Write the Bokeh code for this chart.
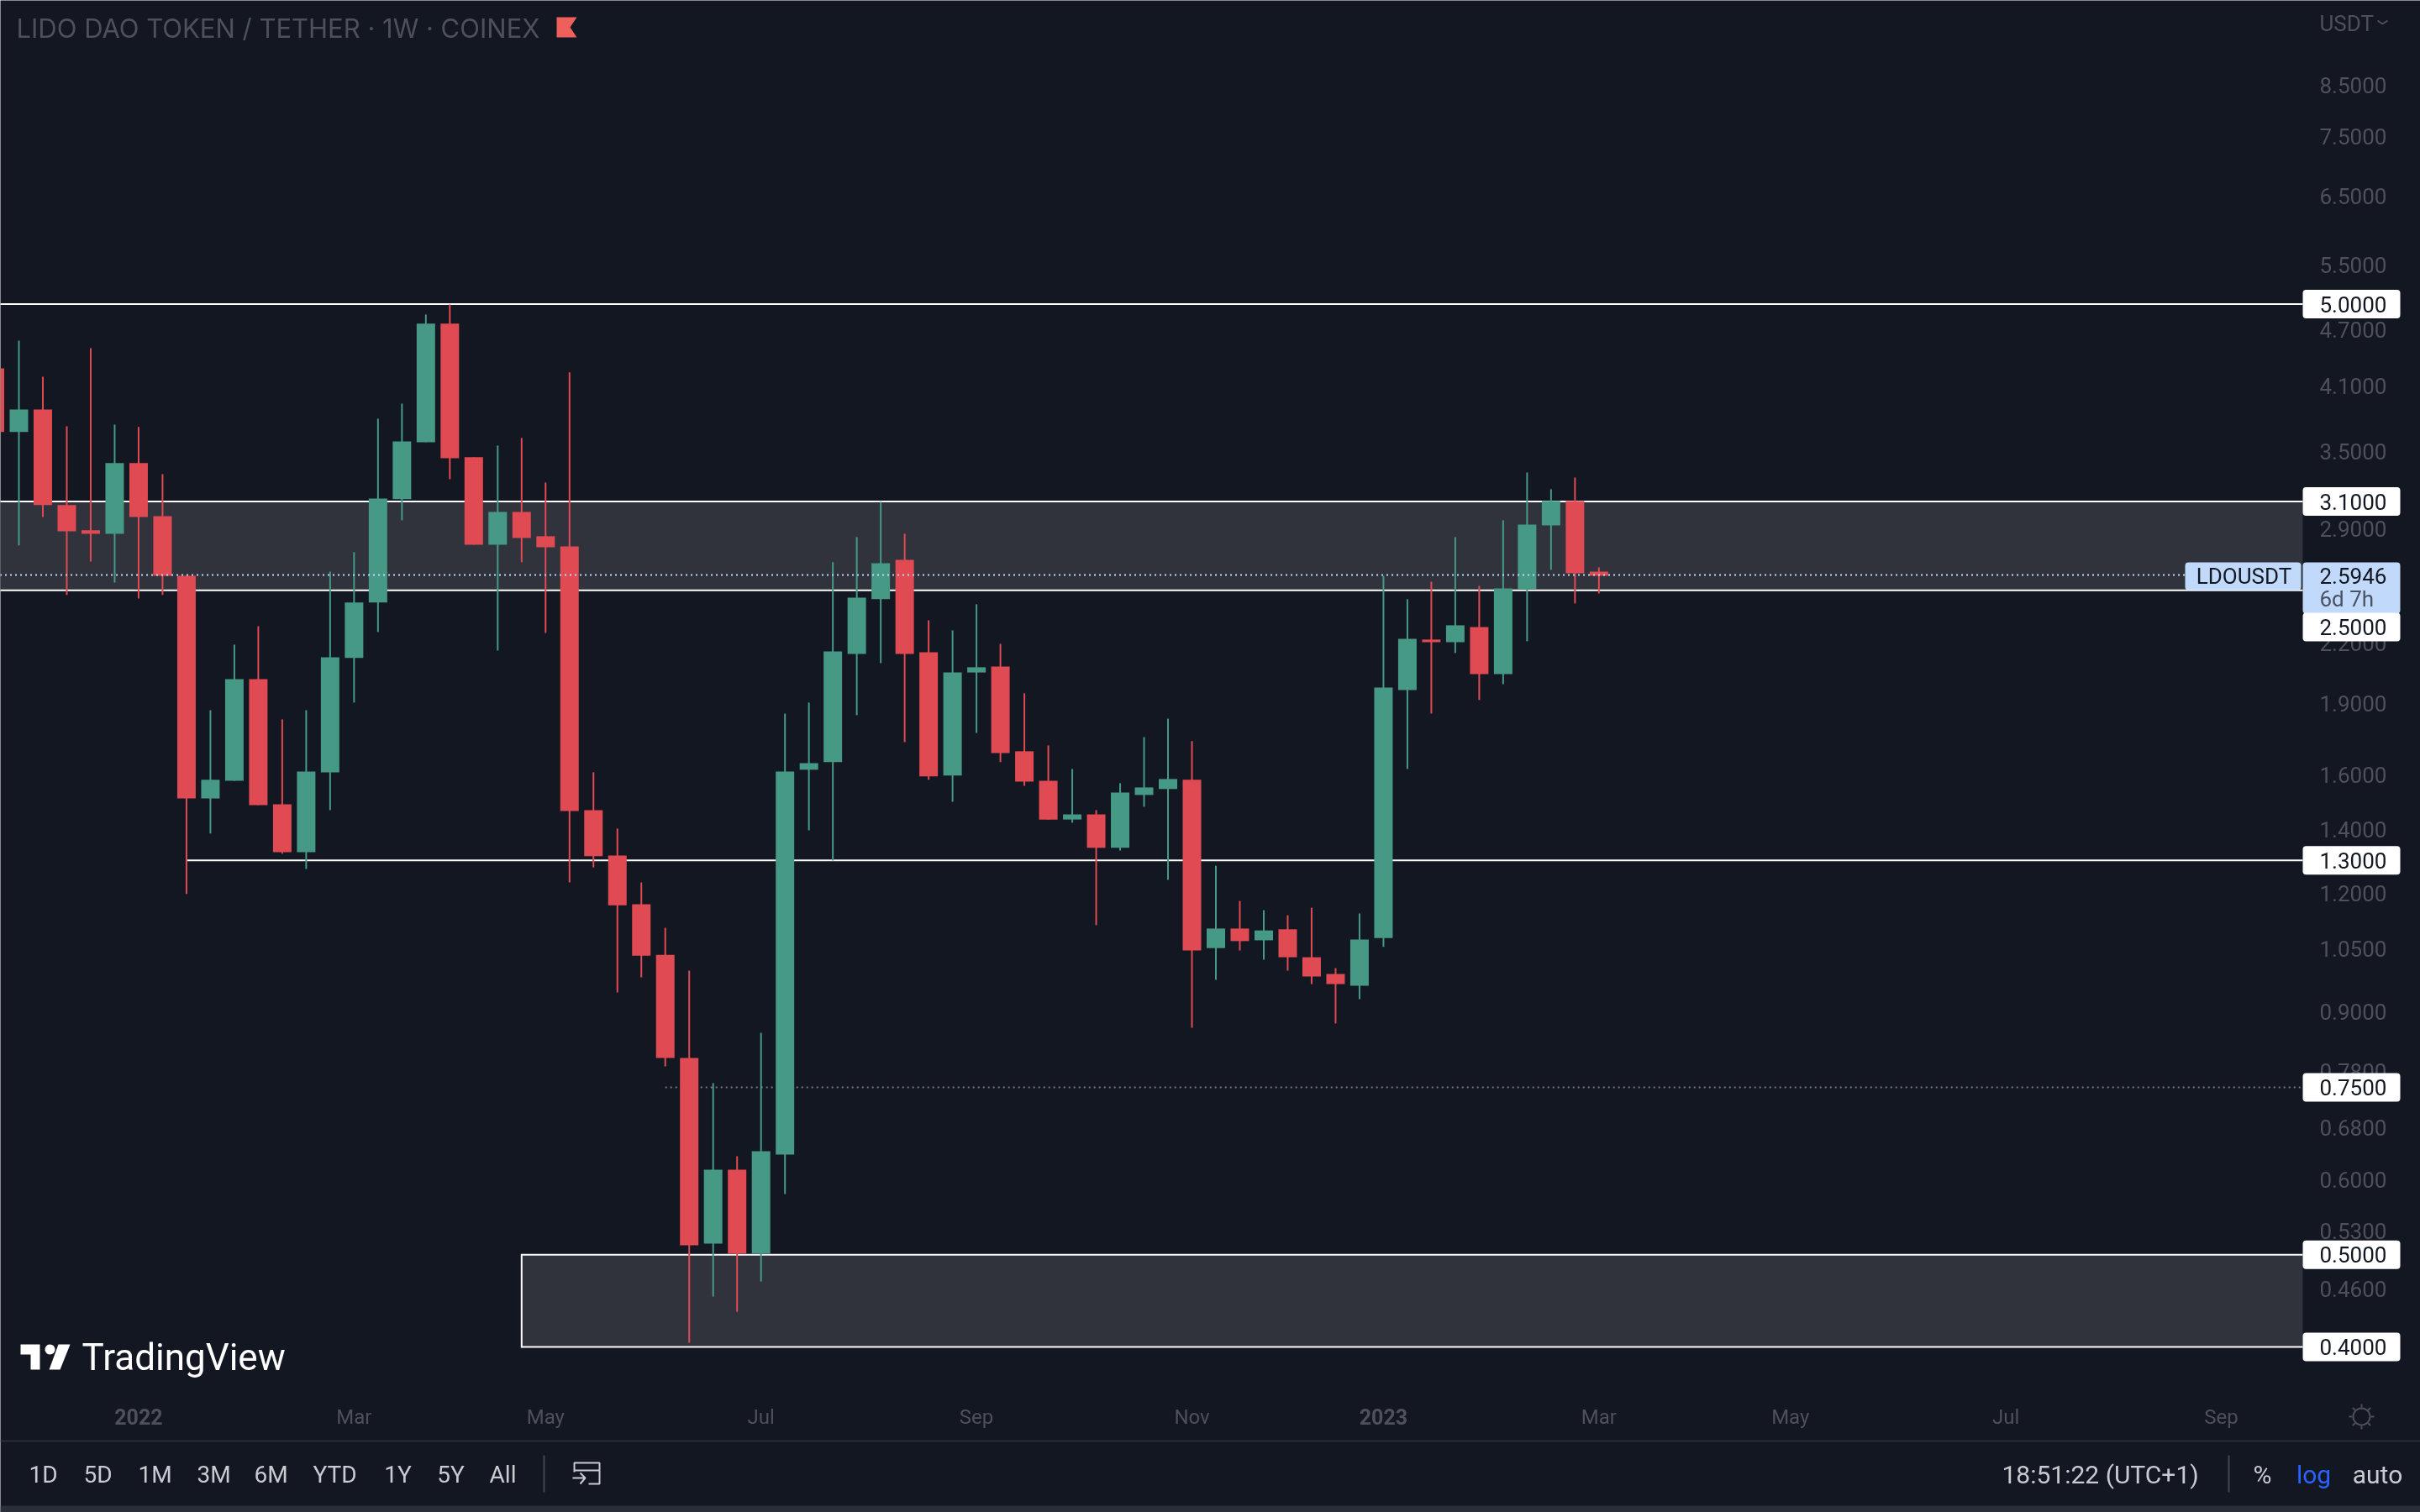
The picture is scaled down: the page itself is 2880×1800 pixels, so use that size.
import numpy as np
from bokeh.embed import file_html
from bokeh.models import BoxAnnotation, FixedTicker, Label, NumeralTickFormatter, PolyAnnotation, Range1d
from bokeh.plotting import figure
from bokeh.resources import INLINE

# weekly candles
bar_index = list(range(-1, 67))
open_ = [4.281, 3.668, 3.875, 3.073, 2.891, 2.867, 3.402, 2.992, 2.590, 1.510, 1.576, 2.016, 1.489, 1.326, 1.609, 2.122, 2.427,
         3.117, 3.579, 4.769, 3.451, 2.792, 3.023, 2.850, 2.781, 1.468, 1.315, 1.169, 1.034, .8054, .5137, .6145, .5013, .6374,
         1.619, 1.649, 2.143, 2.447, 2.692, 2.152, 1.596, 2.049, 2.079, 1.693, 1.576, 1.435, 1.453, 1.340, 1.523, 1.545, 1.580,
         1.051, 1.102, 1.071, 1.100, 1.028, .9872, .9594, 1.077, 1.964, 2.219, 2.205, 2.287, 2.041, 2.507, 2.926, 3.104, 2.616]
high = [4.281, 4.578, 4.195, 3.720, 4.495, 3.735, 3.713, 3.313, 2.590, 1.870, 2.192, 2.292, 1.829, 1.870, 2.616, 2.742, 3.789,
        3.930, 4.877, 4.997, 3.451, 3.550, 3.616, 3.246, 4.238, 1.609, 1.404, 1.232, 1.104, .9952, .7578, .6348, .8561, 1.855,
        1.905, 2.676, 2.844, 3.098, 2.867, 2.325, 2.269, 2.417, 2.196, 1.948, 1.717, 1.622, 1.468, 1.567, 1.752, 1.832, 1.735,
        1.283, 1.178, 1.152, 1.138, 1.159, 1.0013, 1.143, 2.590, 2.447, 2.553, 2.844, 2.527, 2.962, 3.326, 3.194, 3.286, 2.643]
low = [3.668, 2.787, 2.986, 2.472, 2.681, 2.548, 2.451, 2.472, 1.198, 1.387, 1.576, 1.486, 1.321, 1.273, 1.468, 1.905, 2.260,
       2.962, 3.579, 3.273, 2.792, 2.161, 2.676, 2.255, 1.232, 1.278, .944, .9792, .7892, .4041, .4519, .4356, .4687, .5793,
       1.398, 1.299, 1.848, 2.096, 1.731, 1.580, 1.498, 1.770, 1.649, 1.557, 1.435, 1.424, 1.111, 1.331, 1.480, 1.240, .8667,
       .9732, 1.045, 1.022, .9952, .9633, .8756, .9288, 1.054, 1.622, 1.855, 2.148, 1.917, 1.992, 2.210, 2.627, 2.422, 2.481]
close = [3.668, 3.875, 3.073, 2.885, 2.867, 3.402, 2.986, 2.590, 1.510, 1.580, 2.016, 1.486, 1.326, 1.612, 2.126, 2.427, 3.123,
         3.586, 4.769, 3.443, 2.792, 3.023, 2.838, 2.775, 1.465, 1.313, 1.166, 1.032, .8054, .5116, .6145, .5013, .6426, 1.612,
         1.645, 2.156, 2.456, 2.670, 2.143, 1.593, 2.049, 2.075, 1.686, 1.573, 1.435, 1.453, 1.340, 1.532, 1.551, 1.583, 1.045,
         1.102, 1.069, 1.097, 1.028, .9811, .9633, 1.073, 1.976, 2.223, 2.205, 2.297, 2.041, 2.512, 2.932, 3.104, 2.606, 2.59]

price_ticks = [8.5, 7.5, 6.5, 5.5, 4.7, 4.1, 3.5, 2.9, 2.2, 1.9, 1.6, 1.4, 1.2, 1.05, 0.9, 0.78, 0.68, 0.6, 0.53, 0.46]
month_ticks = [14, 22, 31, 40, 49, 66, 74, 83, 92]
month_labels = ["Mar", "May", "Jul", "Sep", "Nov", "Mar", "May", "Jul", "Sep"]
year_ticks = [5, 57]
year_labels = ["2022", "2023"]
tag_levels = [5.0, 3.1, 1.3, 0.75, 0.5, 0.4]
last_price = 2.5946
ranges = ["1D", "5D", "1M", "3M", "6M", "YTD", "1Y", "5Y", "All"]
range_px = [51, 116, 184, 254, 322, 398, 473, 536, 598]

BG = "#131722"
ZONE = "#30333c"
UP = "#459985"
DOWN = "#e04a52"
MUTED = "#4e515c"
SOFT = "#c9cbd1"
BLUE_TAG = "#c1d9fa"
PANEL = "#2a2e39"


# screenshot pixels <-> chart coordinates
def px_x(px):
    return (px - 22) / 28.49


def px_y(py):
    return float(0.4 * np.exp((1603 - py) / 491.5))


p = figure(width=2880, height=1800, output_backend="svg", toolbar_location=None,
           y_axis_type="log", y_axis_location="right", x_range=Range1d(px_x(0), px_x(2880)),
           y_range=Range1d(px_y(1800), px_y(0)),
           min_border_left=0, min_border_top=0, min_border_right=0, min_border_bottom=0,
           background_fill_color=BG, border_fill_color=BG)
p.outline_line_color = None
p.outline_line_alpha = 0
p.styles = {"position": "fixed", "left": "0", "top": "0"}
p.grid.visible = False

chart_right = px_x(2740)

# axes sit inside the frame so the tags and toolbars can be drawn over them
p.xaxis.fixed_location = px_y(1664)
p.yaxis.fixed_location = chart_right
p.xaxis.ticker = FixedTicker(ticks=month_ticks)
p.xaxis.major_label_overrides = dict(zip(month_ticks, month_labels))
p.yaxis.ticker = FixedTicker(ticks=price_ticks)
p.yaxis.formatter = NumeralTickFormatter(format="0.0000")
for ax in [p.xaxis[0], p.yaxis[0]]:
    ax.axis_line_color = None
    ax.major_tick_line_color = None
    ax.minor_tick_line_color = None
    ax.major_tick_out = 0
    ax.major_tick_in = 0
    ax.minor_tick_out = 0
    ax.minor_tick_in = 0
    ax.major_label_text_font = "Roboto"
    ax.major_label_text_color = MUTED
p.xaxis.major_label_text_font_size = "24px"
p.xaxis.major_label_standoff = 8
p.yaxis.major_label_text_font_size = "26px"
p.yaxis.major_label_standoff = 20
p.yaxis.major_label_text_align = "left"

# zones and levels, under the candles
p.quad(left=-5, right=chart_right, bottom=2.5, top=3.1, fill_color=ZONE, line_color=None)
p.quad(left=21, right=chart_right, bottom=0.4, top=0.5, fill_color=ZONE, line_color=None)
p.segment(x0=[-5, -5, -5, 7, 21, 21], x1=chart_right, y0=[5.0, 3.1, 2.5, 1.3, 0.5, 0.4], y1=[5.0, 3.1, 2.5, 1.3, 0.5, 0.4],
          line_color="white", line_width=2)
p.segment(x0=21, x1=21, y0=0.4, y1=0.5, line_color="white", line_width=2, line_cap="square")
p.segment(x0=27, x1=chart_right, y0=0.75, y1=0.75, line_color="#74777f", line_width=2, line_dash="2 4")

colors = [UP if c >= o else DOWN for o, c in zip(open_, close)]
p.segment(x0=bar_index, x1=bar_index, y0=low, y1=high, line_color=colors, line_width=2)
p.vbar(x=bar_index, width=22 / 28.49, bottom=open_, top=close, fill_color=colors, line_color=None)
p.segment(x0=-5, x1=px_x(2600), y0=last_price, y1=last_price, line_color=BLUE_TAG, line_width=2, line_dash="2 4")


def label(text, px, py, color, size, align="left", font="Roboto", style="normal"):
    p.add_layout(Label(x=px_x(px), y=px_y(py), text=text, text_color=color, text_font=font,
                       text_font_size=f"{size}px", text_align=align, text_baseline="middle", text_font_style=style))


def box(x0, x1, y0, y1, color, radius=0):
    p.add_layout(BoxAnnotation(left=px_x(x0), right=px_x(x1), top=px_y(y0), bottom=px_y(y1),
                               fill_color=color, fill_alpha=1, line_color=None, border_radius=radius))


def poly(xs, ys, fill=None, line=None, width=2):
    p.add_layout(PolyAnnotation(xs=[px_x(v) for v in xs], ys=[px_y(v) for v in ys], fill_color=fill,
                                fill_alpha=1 if fill else 0, line_color=line, line_width=width, line_alpha=1))


# header
label("LIDO DAO TOKEN / TETHER · 1W · COINEX", 19, 33, MUTED, 31, font="Inter")
poly([662, 686, 678, 686, 662], [20, 20, 32, 44, 44], fill="#ef5f5c")
label("USDT", 2760, 27, MUTED, 26)
poly([2829, 2835, 2841, 2835], [24, 28, 24, 28], line=MUTED)

# logo
poly([24, 47, 47, 36, 36, 24], [1600, 1600, 1630, 1630, 1612, 1612], fill="white")
ang = np.linspace(0, 2 * np.pi, 24)
poly(list(59 + 6 * np.cos(ang)), list(1606 + 6 * np.sin(ang)), fill="white")
poly([69, 83, 71, 58], [1600, 1600, 1630, 1630], fill="white")
label("TradingView", 97, 1615, "white", 44)

# time axis years are bold, months come from the axis
for tick, text in zip(year_ticks, year_labels):
    label(text, 22 + tick * 28.49, 1686, MUTED, 25, align="center", style="bold")

# price tags
for level in tag_levels:
    y = float(491.5 * np.log(0.4 / level) + 1603)
    box(2740, 2856, y - 17, y + 17, "white", radius=4)
    label(f"{level:.4f}", 2760, y, "#131722", 26)
box(2600, 2738, 669, 702, BLUE_TAG, radius=4)
label("LDOUSDT", 2670, 685, "#131722", 26, align="center")
box(2740, 2856, 669, 730, BLUE_TAG, radius=4)
label(f"{last_price:.4f}", 2760, 685, "#131722", 26)
label("6d 7h", 2760, 712, "#4a5363", 26)
box(2740, 2856, 729, 763, "white", radius=4)
label("2.5000", 2760, 746, "#131722", 26)

# bottom bar
box(0, 2880, 1714, 1716, PANEL)
box(0, 2880, 1792, 1800, PANEL)
for text, px in zip(ranges, range_px):
    label(text, px, 1755, SOFT, 28, align="center")
box(646, 648, 1732, 1776, "#434651")
poly([683, 683, 713, 713, 700, 713, 713, 683, 683],
     [1752, 1741, 1741, 1766, 1766, 1766, 1750, 1750, 1741], line=SOFT)
poly([681, 696, 690, 696, 690, 696], [1759, 1759, 1753, 1759, 1766, 1759], line=SOFT)
label("18:51:22 (UTC+1)", 2382, 1755, SOFT, 30)
box(2651, 2653, 1732, 1776, "#434651")
label("%", 2692, 1755, SOFT, 30, align="center")
label("log", 2753, 1755, "#2962ff", 30, align="center")
label("auto", 2829, 1755, SOFT, 30, align="center")

# sun icon next to the time axis
poly(list(2810 + 10 * np.cos(ang)), list(1686 + 10 * np.sin(ang)), line=MUTED)
for k in range(8):
    a = k * np.pi / 4
    poly([2810 + 11 * np.cos(a), 2810 + 15 * np.cos(a)], [1686 + 11 * np.sin(a), 1686 + 15 * np.sin(a)], line=MUTED)

open("out.html", "w").write(file_html(p, INLINE))
